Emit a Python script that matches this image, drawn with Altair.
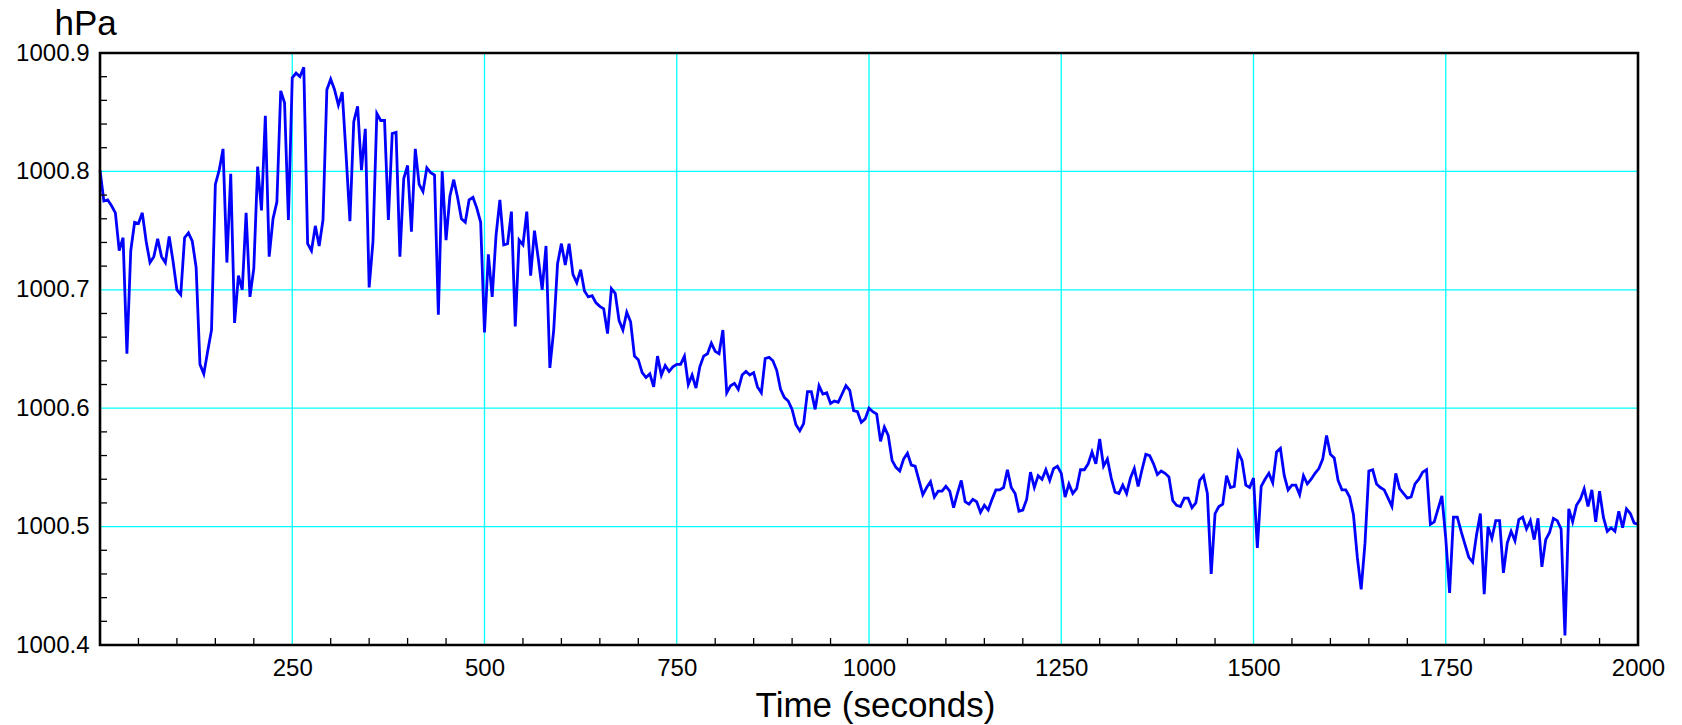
import altair as alt
import pandas as pd

# ---------------- data ----------------
time_s = list(range(0, 2001, 5))

# pressure above 1000 hPa, one value every 5 s (10 values per row = 50 s)
pressure_above_1000 = [
    0.801, 0.775, 0.776, 0.771, 0.765, 0.733, 0.744, 0.646, 0.733, 0.757,
    0.756, 0.765, 0.741, 0.723, 0.728, 0.743, 0.728, 0.723, 0.745, 0.724,
    0.700, 0.696, 0.744, 0.748, 0.741, 0.719, 0.637, 0.629, 0.648, 0.666,
    0.789, 0.801, 0.819, 0.723, 0.798, 0.672, 0.712, 0.700, 0.765, 0.694,
    0.718, 0.804, 0.767, 0.847, 0.728, 0.760, 0.774, 0.868, 0.858, 0.759,
    0.879, 0.883, 0.880, 0.888, 0.739, 0.733, 0.754, 0.737, 0.759, 0.869,
    0.878, 0.869, 0.856, 0.867, 0.814, 0.758, 0.842, 0.855, 0.801, 0.836,
    0.702, 0.741, 0.849, 0.843, 0.843, 0.759, 0.832, 0.833, 0.728, 0.794,
    0.805, 0.749, 0.819, 0.789, 0.783, 0.803, 0.799, 0.797, 0.679, 0.800,
    0.742, 0.779, 0.793, 0.778, 0.760, 0.757, 0.776, 0.778, 0.769, 0.757,
    0.664, 0.730, 0.694, 0.746, 0.776, 0.738, 0.739, 0.766, 0.669, 0.742,
    0.738, 0.766, 0.712, 0.750, 0.726, 0.700, 0.737, 0.634, 0.666, 0.722,
    0.739, 0.721, 0.739, 0.713, 0.706, 0.717, 0.699, 0.694, 0.695, 0.689,
    0.686, 0.684, 0.663, 0.701, 0.697, 0.674, 0.666, 0.681, 0.673, 0.644,
    0.641, 0.630, 0.626, 0.629, 0.618, 0.644, 0.628, 0.636, 0.631, 0.635,
    0.637, 0.637, 0.644, 0.620, 0.628, 0.617, 0.635, 0.644, 0.646, 0.655,
    0.648, 0.646, 0.666, 0.613, 0.619, 0.621, 0.616, 0.628, 0.631, 0.628,
    0.630, 0.618, 0.613, 0.642, 0.643, 0.640, 0.632, 0.616, 0.609, 0.606,
    0.599, 0.586, 0.581, 0.587, 0.614, 0.614, 0.599, 0.619, 0.612, 0.613,
    0.604, 0.606, 0.605, 0.612, 0.619, 0.615, 0.598, 0.597, 0.588, 0.591,
    0.600, 0.597, 0.595, 0.572, 0.584, 0.577, 0.556, 0.550, 0.547, 0.557,
    0.562, 0.552, 0.551, 0.539, 0.527, 0.533, 0.538, 0.525, 0.530, 0.530,
    0.534, 0.530, 0.516, 0.528, 0.539, 0.521, 0.519, 0.523, 0.521, 0.512,
    0.518, 0.514, 0.523, 0.531, 0.531, 0.533, 0.548, 0.533, 0.528, 0.513,
    0.514, 0.523, 0.546, 0.533, 0.543, 0.540, 0.548, 0.539, 0.549, 0.551,
    0.545, 0.525, 0.536, 0.528, 0.532, 0.548, 0.548, 0.553, 0.563, 0.553,
    0.574, 0.551, 0.557, 0.541, 0.529, 0.528, 0.535, 0.528, 0.541, 0.549,
    0.534, 0.548, 0.561, 0.560, 0.553, 0.544, 0.547, 0.545, 0.542, 0.522,
    0.518, 0.517, 0.524, 0.524, 0.516, 0.520, 0.539, 0.543, 0.528, 0.460,
    0.511, 0.517, 0.519, 0.543, 0.533, 0.534, 0.563, 0.556, 0.535, 0.533,
    0.541, 0.482, 0.534, 0.540, 0.545, 0.537, 0.563, 0.566, 0.543, 0.531,
    0.535, 0.535, 0.527, 0.543, 0.536, 0.540, 0.545, 0.549, 0.557, 0.577,
    0.561, 0.558, 0.539, 0.531, 0.531, 0.525, 0.510, 0.474, 0.447, 0.486,
    0.547, 0.548, 0.536, 0.533, 0.531, 0.524, 0.517, 0.545, 0.532, 0.528,
    0.524, 0.525, 0.536, 0.540, 0.546, 0.548, 0.502, 0.504, 0.515, 0.526,
    0.490, 0.444, 0.508, 0.508, 0.496, 0.485, 0.474, 0.470, 0.493, 0.511,
    0.443, 0.500, 0.490, 0.505, 0.505, 0.461, 0.486, 0.496, 0.488, 0.506,
    0.508, 0.498, 0.505, 0.489, 0.507, 0.466, 0.489, 0.495, 0.507, 0.505,
    0.498, 0.408, 0.515, 0.504, 0.518, 0.523, 0.532, 0.517, 0.531, 0.504,
    0.530, 0.508, 0.496, 0.499, 0.496, 0.513, 0.499, 0.515, 0.511, 0.503,
    0.502,
]
pressure_hpa = [round(1000 + v, 3) for v in pressure_above_1000]

x_labels = [250, 500, 750, 1000, 1250, 1500, 1750, 2000]
y_labels = [1000.4, 1000.5, 1000.6, 1000.7, 1000.8, 1000.9]
x_grid = [250, 500, 750, 1000, 1250, 1500, 1750]
y_grid = [1000.5, 1000.6, 1000.7, 1000.8]
x_minor = [t for t in range(50, 2000, 50) if t % 250 != 0]
y_minor = [round(1000.4 + 0.02 * i, 2) for i in range(1, 25) if i % 5 != 0]

# ---------------- layout / style ----------------
W, H = 1538, 592
FONT = "Liberation Sans"
GRID = "#00ffff"
LINE = "#0000ff"

xscale = alt.Scale(domain=[0, 2000], nice=False, zero=False)
yscale = alt.Scale(domain=[1000.4, 1000.9], nice=False, zero=False)

x_axis = alt.Axis(
    values=x_labels, format="d", title="Time (seconds)", grid=False, ticks=False,
    domain=False, labelFontSize=24, labelFont=FONT, labelColor="black",
    labelPadding=11, labelFlush=False, titleFont=FONT, titleFontSize=35,
    titleFontWeight="normal", titleColor="black", titleX=775, titleY=71,
    titleAlign="center", titleBaseline="alphabetic",
)
y_axis = alt.Axis(
    values=y_labels, format=".1f", title="hPa", grid=False, ticks=False, domain=False,
    labelFontSize=24, labelFont=FONT, labelColor="black", labelPadding=11,
    titleFont=FONT, titleFontSize=35, titleFontWeight="normal", titleColor="black",
    titleAngle=0, titleX=-46, titleY=-19, titleAlign="left",
    titleBaseline="alphabetic",
)

X = alt.X("t:Q", scale=xscale, axis=x_axis)
Y = alt.Y("p:Q", scale=yscale, axis=y_axis)

df_line = pd.DataFrame({"t": time_s, "p": pressure_hpa})
df_xgrid = pd.DataFrame({"t": x_grid})
df_ygrid = pd.DataFrame({"p": y_grid})
df_xminor = pd.DataFrame({"t": x_minor})
df_yminor = pd.DataFrame({"p": y_minor})
df_frame = pd.DataFrame({"k": [0]})

grid_x = alt.Chart(df_xgrid).mark_rule(color=GRID, strokeWidth=1.3).encode(
    x=X, y=alt.value(0), y2=alt.value(H))
grid_y = alt.Chart(df_ygrid).mark_rule(color=GRID, strokeWidth=1.3).encode(
    y=Y, x=alt.value(0), x2=alt.value(W))
line = alt.Chart(df_line).mark_line(color=LINE, strokeWidth=2.8).encode(x=X, y=Y)
ticks_x = alt.Chart(df_xminor).mark_rule(color="black", strokeWidth=1.3).encode(
    x=X, y=alt.value(H), y2=alt.value(H - 7))
ticks_y = alt.Chart(df_yminor).mark_rule(color="black", strokeWidth=1.3).encode(
    y=Y, x=alt.value(0), x2=alt.value(7))
frame = alt.Chart(df_frame).mark_rect(
    fillOpacity=0, stroke="black", strokeWidth=2.6).encode(
    x=alt.value(0), x2=alt.value(W), y=alt.value(0), y2=alt.value(H))

chart = alt.layer(grid_x, grid_y, line, ticks_x, ticks_y, frame).properties(
    width=W, height=H,
    autosize=alt.AutoSizeParams(type="none"),
    padding={"left": 92, "top": 45, "right": 36, "bottom": 80},
).configure_view(stroke=None)

chart.save("out.html", embed_options={"renderer": "svg", "actions": False})
